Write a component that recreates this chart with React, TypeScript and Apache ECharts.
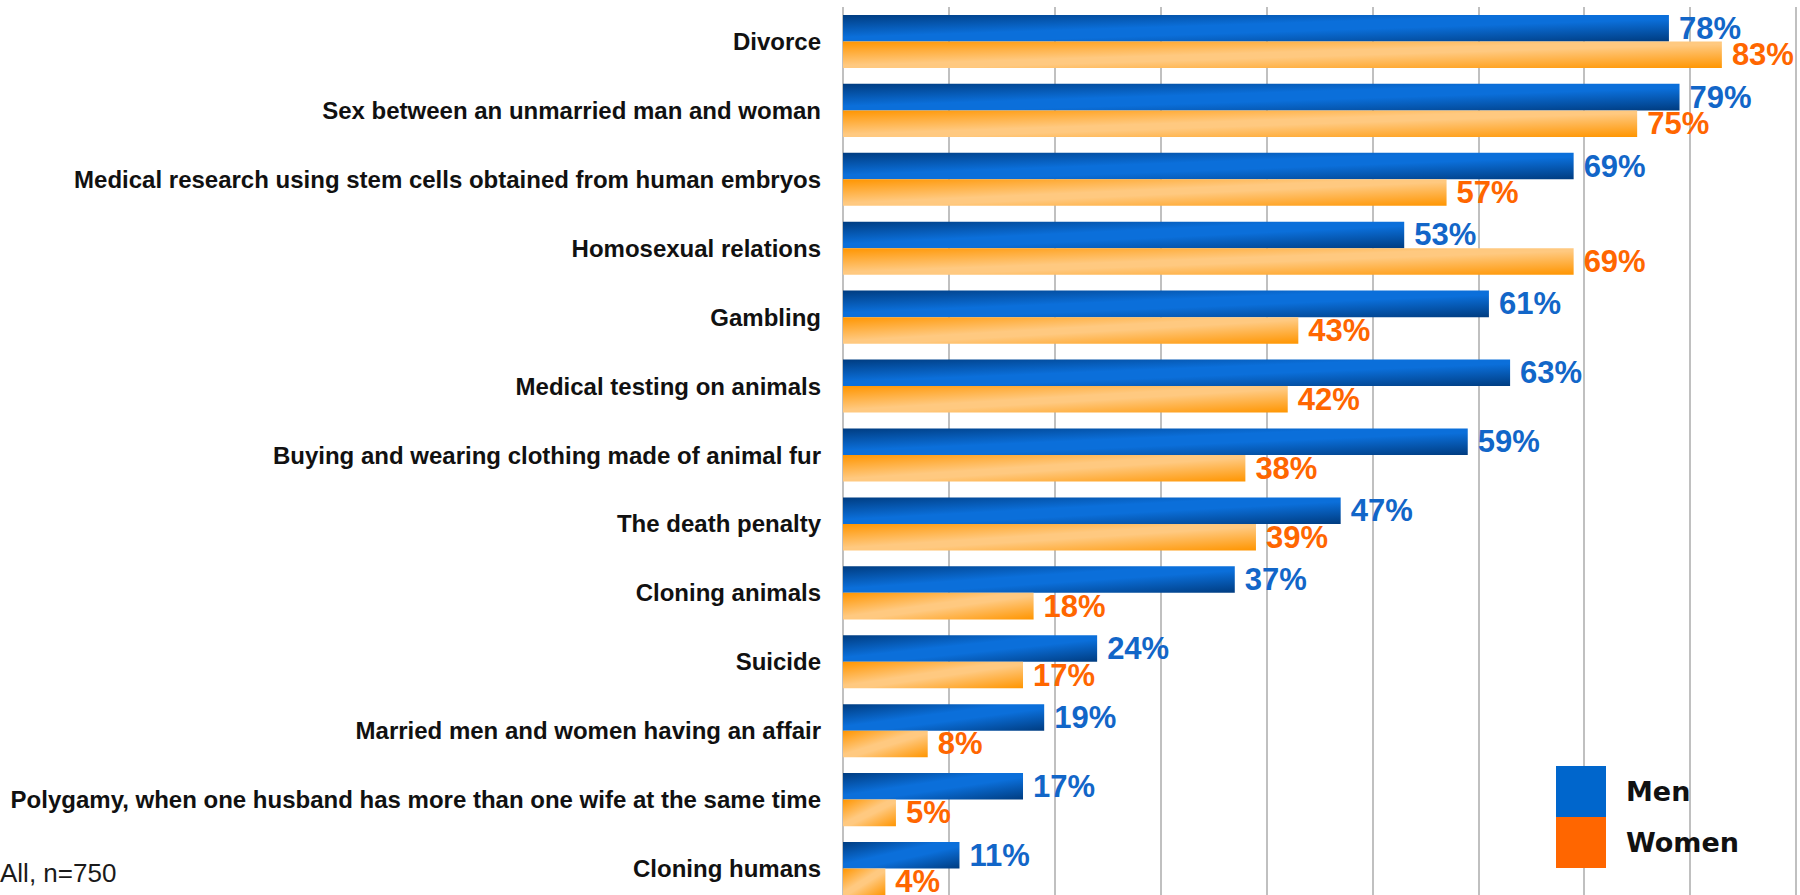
import React, { useEffect, useRef } from "react";
import * as echarts from "echarts";

const categories = [
  "Divorce",
  "Sex between an unmarried man and woman",
  "Medical research using stem cells obtained from human embryos",
  "Homosexual relations",
  "Gambling",
  "Medical testing on animals",
  "Buying and wearing clothing made of animal fur",
  "The death penalty",
  "Cloning animals",
  "Suicide",
  "Married men and women having an affair",
  "Polygamy, when one husband has more than one wife at the same time",
  "Cloning humans",
];
const menValues = [78, 79, 69, 53, 61, 63, 59, 47, 37, 24, 19, 17, 11];
const womenValues = [83, 75, 57, 69, 43, 42, 38, 39, 18, 17, 8, 5, 4];
const seriesNames = ["Men", "Women"];
const footnote = "All, n=750";

const blueGradient = new echarts.graphic.LinearGradient(0, 0, 1, 1, [
  { offset: 0, color: "#003c80" },
  { offset: 0.42, color: "#0b6fda" },
  { offset: 0.58, color: "#0b6fda" },
  { offset: 1, color: "#003c80" },
]);
const orangeGradient = new echarts.graphic.LinearGradient(0, 0, 1, 1, [
  { offset: 0, color: "#ff9500" },
  { offset: 0.45, color: "#ffc980" },
  { offset: 0.55, color: "#ffc980" },
  { offset: 1, color: "#ff9500" },
]);

export default function App() {
  const ref = useRef<HTMLDivElement>(null);
  useEffect(() => {
    if (!ref.current) return;
    const chart = echarts.init(ref.current, undefined, { renderer: "svg" });
    const labelFont = {
      fontFamily: "'Liberation Sans', Arial, sans-serif",
      fontWeight: "bold" as const,
      fontSize: 31,
    };
    chart.setOption({
      animation: false,
      backgroundColor: "#ffffff",
      grid: { left: 843, right: 4, top: 7, bottom: 0, containLabel: false },
      xAxis: {
        type: "value",
        min: 0,
        max: 90,
        interval: 10,
        axisLabel: { show: false },
        axisLine: { show: false },
        axisTick: { show: false },
        splitLine: { show: true, lineStyle: { color: "#c0c0c0", width: 2 } },
      },
      yAxis: {
        type: "category",
        data: categories,
        inverse: true,
        axisLine: { show: false },
        axisTick: { show: false },
        splitLine: { show: false },
        axisLabel: {
          margin: 22,
          color: "#111111",
          fontFamily: "'Liberation Sans', Arial, sans-serif",
          fontWeight: "bold",
          fontSize: 24,
          padding: [3, 0, 0, 0],
        },
      },
      legend: {
        orient: "vertical",
        left: 1556,
        top: 766,
        padding: 0,
        itemGap: 0,
        itemWidth: 50,
        itemHeight: 51,
        icon: "rect",
        textStyle: {
          fontFamily: "'DejaVu Sans', Verdana, sans-serif",
          fontWeight: "bold",
          fontSize: 27,
          color: "#111111",
          padding: [0, 0, 0, 15],
        },
        data: [
          { name: seriesNames[0], itemStyle: { color: "#0066cc" } },
          { name: seriesNames[1], itemStyle: { color: "#ff6600" } },
        ],
      },
      series: [
        {
          name: seriesNames[0],
          type: "bar",
          data: menValues,
          barGap: "0%",
          barCategoryGap: "23%",
          itemStyle: { color: blueGradient },
          label: {
            show: true,
            position: "right",
            distance: 10,
            formatter: "{c}%",
            color: "#1266c8",
            ...labelFont,
          },
        },
        {
          name: seriesNames[1],
          type: "bar",
          data: womenValues,
          barGap: "0%",
          barCategoryGap: "23%",
          itemStyle: { color: orangeGradient },
          label: {
            show: true,
            position: "right",
            distance: 10,
            formatter: "{c}%",
            color: "#ff6600",
            ...labelFont,
          },
        },
      ],
      graphic: [
        {
          type: "text",
          left: 0,
          top: 860,
          style: {
            text: footnote,
            fill: "#1a1a1a",
            fontFamily: "'Liberation Sans', Arial, sans-serif",
            fontSize: 26,
          },
        },
      ],
    });
    return () => chart.dispose();
  }, []);
  return (
    <div
      style={{
        position: "absolute",
        left: 0,
        top: 0,
        width: 1800,
        height: 895,
        overflow: "hidden",
      }}
    >
      <div ref={ref} style={{ width: 1800, height: 903 }} />
    </div>
  );
}
